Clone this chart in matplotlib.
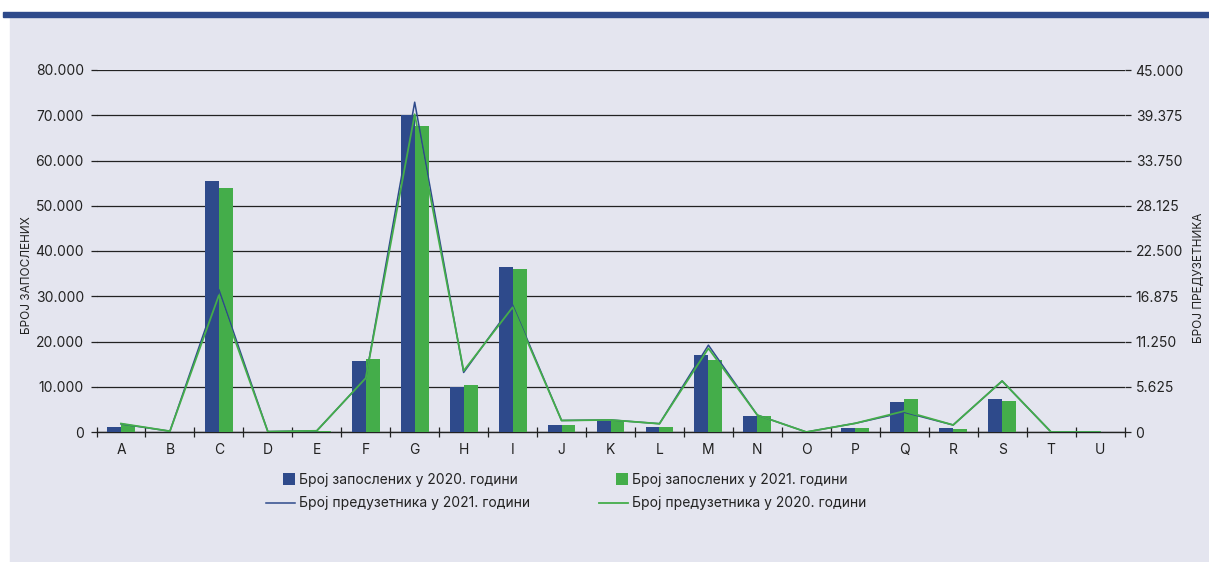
import numpy as np
import matplotlib.pyplot as plt
from matplotlib.patches import Rectangle
from matplotlib.legend_handler import HandlerPatch
from matplotlib.ticker import FuncFormatter, MultipleLocator

plt.rcParams['font.family'] = ['Inter', 'DejaVu Sans']

# --------------------------
# data
# --------------------------
sectors = ['A', 'B', 'C', 'D', 'E', 'F', 'G', 'H', 'I', 'J', 'K',
           'L', 'M', 'N', 'O', 'P', 'Q', 'R', 'S', 'T', 'U']

employees_2020 = [1200, 50, 55500, 0, 200, 15700, 70000, 9900, 36400, 1600, 2500,
                  1150, 17000, 3600, 0, 950, 6600, 800, 7300, 0, 0]
employees_2021 = [1500, 100, 53900, 0, 300, 16100, 67700, 10400, 36100, 1650, 2600,
                  1150, 15900, 3500, 0, 950, 7300, 750, 6900, 0, 0]

entrepreneurs_2021 = [1000, 100, 17700, 50, 150, 6700, 41000, 7400, 15800, 1430, 1500,
                      1030, 10800, 2100, 0, 1080, 2450, 870, 6340, 0, 0]
entrepreneurs_2020 = [1050, 100, 17000, 50, 150, 6700, 39500, 7600, 15500, 1430, 1500,
                      1030, 10400, 2100, 0, 1080, 2600, 870, 6340, 0, 0]

label_emp_2020 = 'Број запослених у 2020. години'
label_emp_2021 = 'Број запослених у 2021. години'
label_ent_2021 = 'Број предузетника у 2021. години'
label_ent_2020 = 'Број предузетника у 2020. години'

blue = '#2e4a8b'
green = '#44ad4a'
panel = '#e4e5ef'
ink = '#222222'


def dot_fmt(v, pos):
    return f'{int(round(v)):,}'.replace(',', '.')


# --------------------------
# figure
# --------------------------
fig = plt.figure(figsize=(12.09, 5.62), dpi=100, facecolor='white')

# background panel and top band
fig.patches.append(Rectangle((10 / 1209, 0), 1 - 10 / 1209, 1 - 15 / 562,
                             transform=fig.transFigure, color=panel, zorder=-10))
fig.patches.append(Rectangle((3 / 1209, 1 - 17 / 562), 1, 5 / 562,
                             transform=fig.transFigure, color=blue, zorder=-9))

ax = fig.add_axes([96.5 / 1209, 1 - 432 / 562, 1028 / 1209, 362 / 562])
ax.set_facecolor('none')

x = np.arange(len(sectors))
w = 0.285
b1 = ax.bar(x - w / 2, employees_2020, w, color=blue, zorder=3, label=label_emp_2020)
b2 = ax.bar(x + w / 2, employees_2021, w, color=green, zorder=3, label=label_emp_2021)

ax.set_xlim(-0.5, len(sectors) - 0.5)
ax.set_ylim(0, 80000)
ax.yaxis.set_major_locator(MultipleLocator(10000))
ax.yaxis.set_major_formatter(FuncFormatter(dot_fmt))
ax.grid(axis='y', color=ink, linewidth=0.9, zorder=0)
ax.set_axisbelow(True)

ax.set_xticks(x)
ax.set_xticklabels(sectors)
ax.set_xticks(np.arange(-0.5, len(sectors)), minor=True)
ax.tick_params(axis='x', which='major', length=0, pad=8, labelsize=10, colors=ink)
ax.tick_params(axis='x', which='minor', direction='inout', length=7, width=0.9, color=ink)
ax.tick_params(axis='y', length=4, width=0.9, labelsize=10, colors=ink, pad=5)

for s in ['top', 'left', 'right']:
    ax.spines[s].set_visible(False)
ax.spines['bottom'].set_color(ink)
ax.spines['bottom'].set_linewidth(1.0)

# right axis - entrepreneurs
ax2 = ax.twinx()
l1, = ax2.plot(x, entrepreneurs_2021, color=blue, linewidth=1.1, label=label_ent_2021)
l2, = ax2.plot(x, entrepreneurs_2020, color=green, linewidth=1.3, label=label_ent_2020)
ax2.set_ylim(0, 45000)
ax2.yaxis.set_major_locator(MultipleLocator(5625))
ax2.yaxis.set_major_formatter(FuncFormatter(dot_fmt))
ax2.tick_params(axis='y', length=4, width=0.9, labelsize=10, colors=ink, pad=4)
for s in ['top', 'left', 'right', 'bottom']:
    ax2.spines[s].set_visible(False)

# axis titles
fig.text(27 / 1209, 1 - 275 / 562, 'БРОЈ ЗАПОСЛЕНИХ', rotation=90,
         ha='center', va='center', fontsize=8.5, color=ink)
fig.text(1199 / 1209, 1 - 278 / 562, 'БРОЈ ПРЕДУЗЕТНИКА', rotation=90,
         ha='center', va='center', fontsize=8.5, color=ink)


# legend - square patches for bars
def square_patch(legend, orig_handle, xdescent, ydescent, width, height, fontsize):
    s = height * 1.25
    return Rectangle((-xdescent + width - s, -ydescent - (s - height) / 2), s, s)


fig.legend(handles=[b1.patches[0], l1, b2.patches[0], l2],
           labels=[label_emp_2020, label_ent_2021, label_emp_2021, label_ent_2020],
           ncol=2, frameon=False, fontsize=10,
           loc='upper left', bbox_to_anchor=(266 / 1209, 1 - 473 / 562),
           borderpad=0, borderaxespad=0, handlelength=2.1, handletextpad=0.3,
           labelspacing=0.68, columnspacing=4.95,
           handler_map={Rectangle: HandlerPatch(patch_func=square_patch)},
           labelcolor=ink)

plt.savefig('out.png', dpi=100, facecolor=fig.get_facecolor())
